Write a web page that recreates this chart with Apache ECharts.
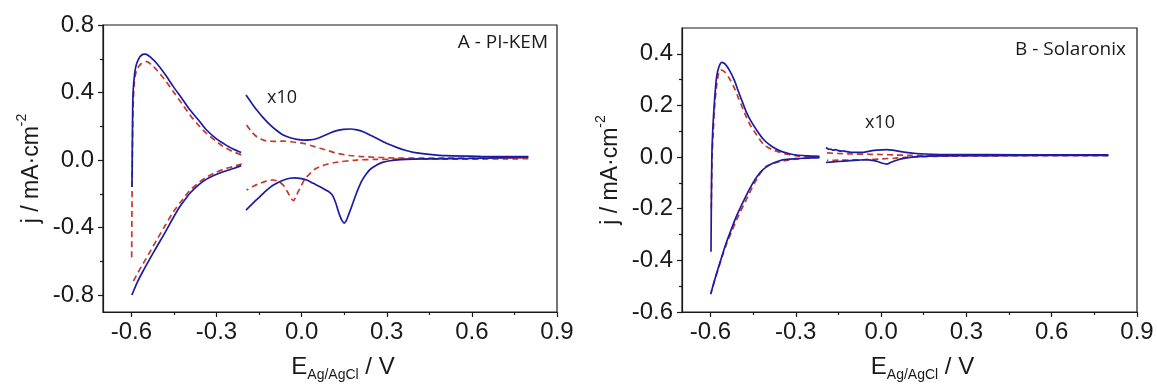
<!DOCTYPE html>
<html>
<head>
<meta charset="utf-8">
<script src="https://cdn.jsdelivr.net/npm/echarts@6/dist/echarts.min.js"></script>
<style>
html,body{margin:0;padding:0;background:#fff;}
#chart{width:1157px;height:387px;}
</style>
</head>
<body>
<div id="chart"></div>
<script>
// ---- tick values ----
const xMajor = [-0.6, -0.3, 0, 0.3, 0.6, 0.9];
const xMinor = [-0.45, -0.15, 0.15, 0.45, 0.75];
const yMajorA = [-0.8, -0.4, 0, 0.4, 0.8];
const yMinorA = [-0.6, -0.2, 0.2, 0.6];
const yMajorB = [-0.6, -0.4, -0.2, 0, 0.2, 0.4];
const yMinorB = [-0.5, -0.3, -0.1, 0.1, 0.3];

// ---- Panel A (PI-KEM) ----
const aSolidAnodicL = [[-0.598,-0.16],[-0.597,0.0],[-0.596,0.2],[-0.594,0.4],[-0.588,0.52],[-0.581,0.573],[-0.570,0.612],[-0.560,0.626],[-0.550,0.628],[-0.53,0.605],[-0.511,0.573],[-0.48,0.505],[-0.452,0.435],[-0.42,0.36],[-0.393,0.296],[-0.36,0.23],[-0.335,0.178],[-0.30,0.125],[-0.276,0.099],[-0.245,0.068],[-0.213,0.045]];
const aSolidCathodicL = [[-0.213,-0.033],[-0.24,-0.05],[-0.276,-0.069],[-0.31,-0.092],[-0.335,-0.113],[-0.36,-0.143],[-0.393,-0.195],[-0.41,-0.232],[-0.43,-0.278],[-0.452,-0.34],[-0.48,-0.425],[-0.511,-0.515],[-0.535,-0.585],[-0.558,-0.655],[-0.578,-0.72],[-0.596,-0.79],[-0.598,-0.80]];
const aDashAnodicL = [[-0.599,-0.575],[-0.598,-0.3],[-0.597,-0.1],[-0.596,0.1],[-0.594,0.3],[-0.590,0.45],[-0.582,0.53],[-0.565,0.572],[-0.546,0.583],[-0.53,0.565],[-0.511,0.535],[-0.48,0.47],[-0.452,0.405],[-0.42,0.33],[-0.393,0.266],[-0.36,0.20],[-0.335,0.158],[-0.30,0.11],[-0.276,0.08],[-0.245,0.052],[-0.211,0.03]];
const aDashCathodicL = [[-0.211,-0.023],[-0.24,-0.038],[-0.276,-0.055],[-0.31,-0.079],[-0.335,-0.101],[-0.36,-0.131],[-0.393,-0.178],[-0.42,-0.235],[-0.452,-0.306],[-0.48,-0.385],[-0.511,-0.474],[-0.535,-0.545],[-0.558,-0.612],[-0.578,-0.67],[-0.597,-0.73]];
const aSolidUpperR = [[-0.196,0.385],[-0.175,0.335],[-0.158,0.296],[-0.135,0.25],[-0.111,0.208],[-0.088,0.175],[-0.065,0.148],[-0.04,0.132],[-0.017,0.123],[0.005,0.118],[0.03,0.119],[0.055,0.128],[0.076,0.142],[0.1,0.16],[0.124,0.174],[0.147,0.182],[0.17,0.184],[0.195,0.179],[0.217,0.168],[0.245,0.145],[0.276,0.119],[0.305,0.095],[0.335,0.075],[0.365,0.058],[0.394,0.046],[0.45,0.034],[0.511,0.026],[0.629,0.022],[0.799,0.02]];
const aSolidLowerR = [[0.799,0.017],[0.6,0.01],[0.45,0.007],[0.394,0.006],[0.35,0.003],[0.311,-0.004],[0.285,-0.014],[0.265,-0.029],[0.245,-0.05],[0.229,-0.079],[0.213,-0.12],[0.2,-0.168],[0.188,-0.22],[0.177,-0.272],[0.166,-0.322],[0.157,-0.36],[0.15,-0.373],[0.143,-0.36],[0.136,-0.335],[0.129,-0.302],[0.12,-0.253],[0.11,-0.212],[0.1,-0.193],[0.088,-0.18],[0.065,-0.158],[0.041,-0.138],[0.018,-0.118],[-0.006,-0.108],[-0.025,-0.106],[-0.041,-0.108],[-0.065,-0.12],[-0.088,-0.138],[-0.11,-0.16],[-0.135,-0.197],[-0.165,-0.245],[-0.196,-0.296]];
const aDashUpperR = [[-0.194,0.208],[-0.175,0.165],[-0.158,0.138],[-0.14,0.122],[-0.123,0.113],[-0.095,0.111],[-0.065,0.112],[-0.03,0.107],[0.006,0.099],[0.035,0.085],[0.065,0.07],[0.095,0.055],[0.124,0.04],[0.17,0.027],[0.217,0.02],[0.335,0.012],[0.5,0.011],[0.799,0.014]];
const aDashLowerR = [[0.799,0.008],[0.5,0.005],[0.335,0.005],[0.265,0.004],[0.194,0.0],[0.124,-0.013],[0.09,-0.025],[0.065,-0.039],[0.045,-0.056],[0.03,-0.079],[0.018,-0.1],[0.006,-0.128],[-0.003,-0.16],[-0.012,-0.187],[-0.02,-0.215],[-0.029,-0.24],[-0.038,-0.225],[-0.047,-0.197],[-0.056,-0.17],[-0.065,-0.148],[-0.082,-0.127],[-0.1,-0.118],[-0.125,-0.125],[-0.147,-0.138],[-0.17,-0.155],[-0.194,-0.178]];

// ---- Panel B (Solaronix) ----
const bSolidAnodicL = [[-0.598,-0.367],[-0.597,-0.2],[-0.595,0.0],[-0.592,0.1],[-0.587,0.197],[-0.582,0.27],[-0.578,0.313],[-0.57,0.35],[-0.56,0.367],[-0.548,0.36],[-0.531,0.332],[-0.515,0.295],[-0.502,0.255],[-0.487,0.212],[-0.473,0.172],[-0.458,0.14],[-0.443,0.114],[-0.414,0.069],[-0.385,0.042],[-0.355,0.024],[-0.325,0.014],[-0.297,0.008],[-0.26,0.005],[-0.217,0.003]];
const bSolidCathodicL = [[-0.217,-0.002],[-0.26,-0.004],[-0.3,-0.006],[-0.332,-0.009],[-0.357,-0.014],[-0.379,-0.023],[-0.397,-0.034],[-0.414,-0.048],[-0.432,-0.069],[-0.449,-0.097],[-0.473,-0.146],[-0.49,-0.185],[-0.508,-0.228],[-0.525,-0.275],[-0.543,-0.328],[-0.558,-0.378],[-0.572,-0.428],[-0.586,-0.479],[-0.599,-0.531]];
const bDashAnodicL = [[-0.597,-0.2],[-0.594,0.0],[-0.59,0.1],[-0.585,0.2],[-0.578,0.28],[-0.572,0.32],[-0.564,0.338],[-0.55,0.33],[-0.531,0.30],[-0.515,0.265],[-0.502,0.23],[-0.487,0.19],[-0.473,0.153],[-0.458,0.12],[-0.443,0.095],[-0.414,0.05],[-0.385,0.03],[-0.355,0.018],[-0.325,0.01],[-0.297,0.005],[-0.26,0.003],[-0.217,0.001]];
const bDashCathodicL = [[-0.217,-0.001],[-0.26,-0.004],[-0.3,-0.008],[-0.34,-0.014],[-0.37,-0.022],[-0.402,-0.034],[-0.42,-0.055],[-0.437,-0.085],[-0.452,-0.115],[-0.467,-0.149],[-0.481,-0.181],[-0.496,-0.214],[-0.51,-0.248],[-0.525,-0.287],[-0.543,-0.335],[-0.558,-0.383],[-0.572,-0.432],[-0.586,-0.481],[-0.598,-0.525]];
const bSolidUpperR = [[-0.194,0.037],[-0.185,0.031],[-0.175,0.030],[-0.168,0.027],[-0.16,0.029],[-0.15,0.025],[-0.14,0.023],[-0.133,0.024],[-0.12,0.021],[-0.098,0.018],[-0.063,0.018],[-0.04,0.023],[-0.015,0.027],[0.02,0.029],[0.045,0.026],[0.067,0.022],[0.095,0.017],[0.125,0.014],[0.18,0.011],[0.242,0.01],[0.5,0.009],[0.799,0.009]];
const bSolidLowerR = [[0.799,0.007],[0.4,0.006],[0.2,0.005],[0.13,0.002],[0.102,-0.001],[0.08,-0.005],[0.055,-0.012],[0.035,-0.02],[0.02,-0.027],[0.005,-0.024],[-0.01,-0.018],[-0.03,-0.013],[-0.052,-0.01],[-0.08,-0.012],[-0.109,-0.014],[-0.15,-0.017],[-0.194,-0.021]];
const bDashUpperR = [[-0.19,0.016],[-0.15,0.014],[-0.1,0.012],[-0.05,0.011],[0.0,0.01],[0.05,0.008],[0.1,0.007],[0.2,0.006],[0.4,0.007],[0.799,0.008]];
const bDashLowerR = [[0.799,0.006],[0.4,0.005],[0.2,0.003],[0.1,0.0],[0.05,-0.004],[0.0,-0.007],[-0.05,-0.01],[-0.1,-0.011],[-0.15,-0.012],[-0.19,-0.013]];

// ---- texts ----
const labelA = 'A - PI-KEM';
const labelB = 'B - Solaronix';
const scaleNote = 'x10';

// ---- styles ----
const BLUE = '#1c1ca3';
const RED = '#c4392d';
const INK = '#1a1a1a';
const TICKFONT = '"Liberation Sans", Arial, sans-serif';
const ANNFONT = '"Open Sans", "Liberation Sans", sans-serif';
const fmt = v => (Math.abs(v) < 1e-9 ? 0 : v).toFixed(1);

function majorX(gi) {
  return {
    type: 'value', gridIndex: gi, min: -0.7, max: 0.9, position: 'bottom',
    axisLine: { show: true, onZero: false, lineStyle: { color: INK, width: 1.2 } },
    axisTick: { show: true, customValues: xMajor, length: 5, lineStyle: { color: INK, width: 1.2 } },
    axisLabel: { customValues: xMajor, formatter: fmt, fontSize: 24, fontFamily: TICKFONT, color: INK, margin: 8 },
    splitLine: { show: false },
    name: '{e|E}{s|Ag/AgCl}{e| / V}',
    nameLocation: 'middle', nameGap: 40,
    nameTextStyle: {
      padding: [0, 0, 0, 26],
      rich: {
        e: { fontSize: 24, fontFamily: TICKFONT, color: INK, lineHeight: 30 },
        s: { fontSize: 14, fontFamily: TICKFONT, color: INK, lineHeight: 14, verticalAlign: 'bottom' }
      }
    }
  };
}
function minorX(gi) {
  return {
    type: 'value', gridIndex: gi, min: -0.7, max: 0.9, position: 'bottom',
    axisLine: { show: false, onZero: false },
    axisTick: { show: true, customValues: xMinor, length: 3, lineStyle: { color: INK, width: 1.2 } },
    axisLabel: { show: false }, splitLine: { show: false }
  };
}
function majorY(gi, min, max, ticks) {
  return {
    type: 'value', gridIndex: gi, min: min, max: max, position: 'left',
    axisLine: { show: true, onZero: false, lineStyle: { color: INK, width: 1.2 } },
    axisTick: { show: true, customValues: ticks, length: 5, lineStyle: { color: INK, width: 1.2 } },
    axisLabel: { customValues: ticks, formatter: fmt, fontSize: 24, fontFamily: TICKFONT, color: INK, margin: 9 },
    splitLine: { show: false },
    name: '{a|j / mA·cm}{s|-2}',
    nameLocation: 'middle', nameGap: 54,
    nameTextStyle: {
      rich: {
        a: { fontSize: 23, fontFamily: TICKFONT, color: INK, lineHeight: 34 },
        s: { fontSize: 14, fontFamily: TICKFONT, color: INK, lineHeight: 14, verticalAlign: 'top' }
      }
    }
  };
}
function minorY(gi, min, max, ticks) {
  return {
    type: 'value', gridIndex: gi, min: min, max: max, position: 'left',
    axisLine: { show: false, onZero: false },
    axisTick: { show: true, customValues: ticks, length: 3, lineStyle: { color: INK, width: 1.2 } },
    axisLabel: { show: false }, splitLine: { show: false }
  };
}
function line(data, xi, yi, dashed) {
  return {
    type: 'line', xAxisIndex: xi, yAxisIndex: yi, data: data,
    showSymbol: false, smooth: 0.3, silent: true, animation: false,
    lineStyle: dashed ? { color: RED, width: 1.7, type: [6, 4] } : { color: BLUE, width: 1.7 },
    z: dashed ? 2 : 3
  };
}

const chart = echarts.init(document.getElementById('chart'), null, { renderer: 'canvas' });
chart.setOption({
  backgroundColor: '#ffffff',
  animation: false,
  grid: [
    { left: 103, top: 25, width: 454, height: 287, show: true, borderColor: INK, borderWidth: 1.2, backgroundColor: 'transparent' },
    { left: 682, top: 28, width: 455, height: 286, show: true, borderColor: INK, borderWidth: 1.2, backgroundColor: 'transparent' }
  ],
  xAxis: [majorX(0), minorX(0), majorX(1), minorX(1)],
  yAxis: [majorY(0, -0.9, 0.8, yMajorA), minorY(0, -0.9, 0.8, yMinorA), majorY(1, -0.6, 0.5, yMajorB), minorY(1, -0.6, 0.5, yMinorB)],
  series: [
    line(aDashAnodicL, 0, 0, true), line(aDashCathodicL, 0, 0, true),
    line(aDashUpperR, 0, 0, true), line(aDashLowerR, 0, 0, true),
    line(aSolidAnodicL, 0, 0, false), line(aSolidCathodicL, 0, 0, false),
    line(aSolidUpperR, 0, 0, false), line(aSolidLowerR, 0, 0, false),
    line(bDashAnodicL, 2, 2, true), line(bDashCathodicL, 2, 2, true),
    line(bDashUpperR, 2, 2, true), line(bDashLowerR, 2, 2, true),
    line(bSolidAnodicL, 2, 2, false), line(bSolidCathodicL, 2, 2, false),
    line(bSolidUpperR, 2, 2, false), line(bSolidLowerR, 2, 2, false)
  ],
  graphic: [
    { type: 'text', x: 548, y: 43, style: { text: labelA, font: '19px ' + ANNFONT, fill: INK, align: 'right', verticalAlign: 'middle' } },
    { type: 'text', x: 1126, y: 50, style: { text: labelB, font: '19px ' + ANNFONT, fill: INK, align: 'right', verticalAlign: 'middle' } },
    { type: 'text', x: 282, y: 98, style: { text: scaleNote, font: '18px ' + ANNFONT, fill: INK, align: 'center', verticalAlign: 'middle' } },
    { type: 'text', x: 880, y: 123, style: { text: scaleNote, font: '18px ' + ANNFONT, fill: INK, align: 'center', verticalAlign: 'middle' } }
  ]
});
</script>
</body>
</html>
